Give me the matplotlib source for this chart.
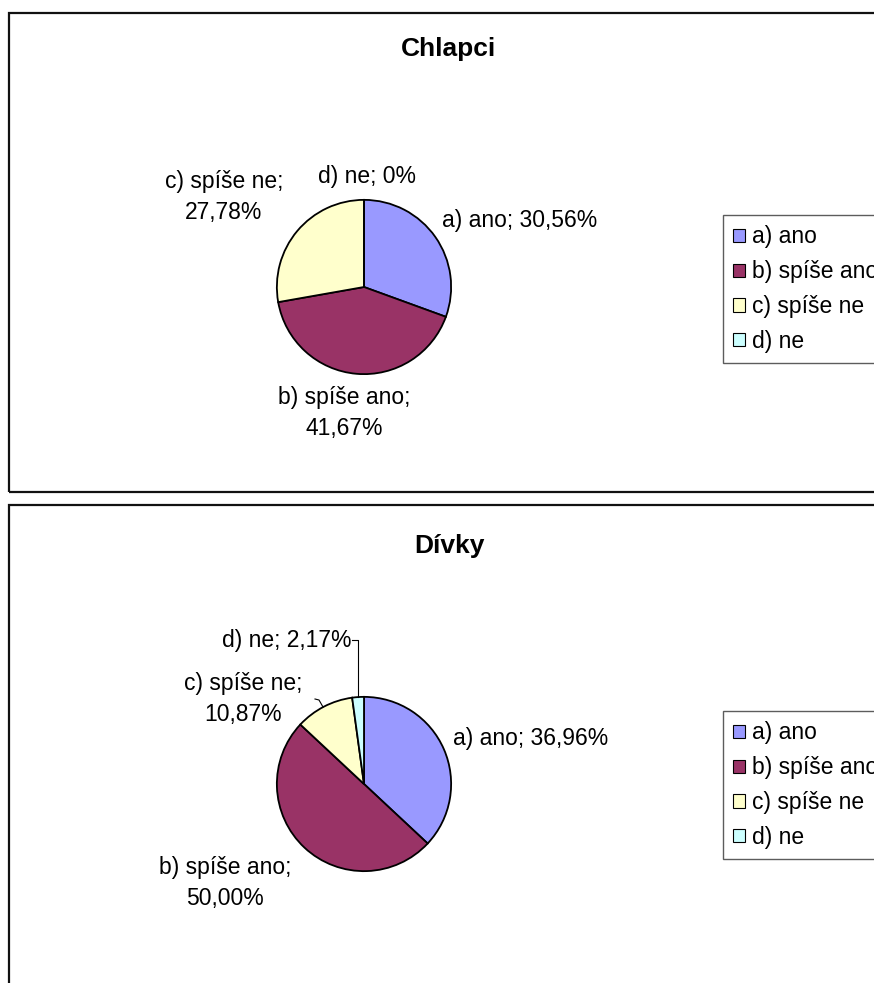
import matplotlib.pyplot as plt
from matplotlib.patches import Rectangle, Patch
from matplotlib.lines import Line2D

plt.rcParams['font.family'] = ['Liberation Sans', 'DejaVu Sans']

categories = ["a) ano", "b) spíše ano", "c) spíše ne", "d) ne"]
chlapci = [30.56, 41.67, 27.78, 0.0]
divky = [36.96, 50.00, 10.87, 2.17]
colors = ["#9999FF", "#993366", "#FFFFCC", "#CCFFFF"]

W, H = 874, 983
fig = plt.figure(figsize=(W / 100, H / 100), dpi=100)


def fx(x):
    return x / W


def fy(y):
    return 1 - y / H


def fmt(v):
    if v == 0:
        return "0%"
    return f"{v:.2f}".replace(".", ",") + "%"


# panel frames
for top, bottom in [(13, 492), (505, 995)]:
    fig.add_artist(Rectangle((fx(9), fy(bottom)), fx(880) - fx(9), fy(top) - fy(bottom),
                             transform=fig.transFigure, fill=False, edgecolor="#111111", lw=1.6))

fs = 16.5
panels = [
    ("Chlapci", chlapci, 49, 287, 237,
     [(520, 220, "center"), (344, 413, "center"), (224, 197, "center"), (367, 176, "center")],
     [True, False, False, True]),
    ("Dívky", divky, 546, 784, 733,
     [(531, 738, "center"), (225, 883, "center"), (243, 699, "center"), (351, 640, "right")],
     [True, False, False, True]),
]

for title, vals, ty, cy, ly, lpos, one_line in panels:
    fig.text(fx(449), fy(ty), title, ha="center", va="center", fontsize=19, fontweight="bold")
    r = 88
    ax = fig.add_axes([fx(364 - r), fy(cy + r), fx(2 * r), fy(cy - r) - fy(cy + r)])
    wedges, _ = ax.pie(vals, colors=colors, startangle=90, counterclock=False,
                       wedgeprops=dict(edgecolor="black", linewidth=1.3))
    ax.set_xlim(-1.01, 1.01)
    ax.set_ylim(-1.01, 1.01)
    ax.axis("off")
    for (x, y, ha), cat, v, one in zip(lpos, categories, vals, one_line):
        sep = " " if one else "\n"
        fig.text(fx(x), fy(y), f"{cat};{sep}{fmt(v)}", ha=ha, va="center",
                 fontsize=fs, linespacing=1.42)
    handles = [Patch(facecolor=c, edgecolor="black", lw=0.8) for c in colors]
    leg = fig.legend(handles, categories, loc="upper left",
                     bbox_to_anchor=(fx(723), fy(ly - 22)), fontsize=fs,
                     frameon=True, fancybox=False, edgecolor="#333333",
                     handlelength=0.5, handleheight=0.5, handletextpad=0.3,
                     labelspacing=0.52, borderpad=0.45, borderaxespad=0)
    leg.get_frame().set_linewidth(1.0)

# leader lines in the Dívky chart
lines = [
    [(352, 640), (358, 640), (358, 697)],
    [(315, 699), (319, 700), (323, 707)],
]
for pts in lines:
    xs = [fx(p[0]) for p in pts]
    ys = [fy(p[1]) for p in pts]
    fig.add_artist(Line2D(xs, ys, transform=fig.transFigure, color="black", lw=0.8))

fig.savefig("out.png", dpi=100)
